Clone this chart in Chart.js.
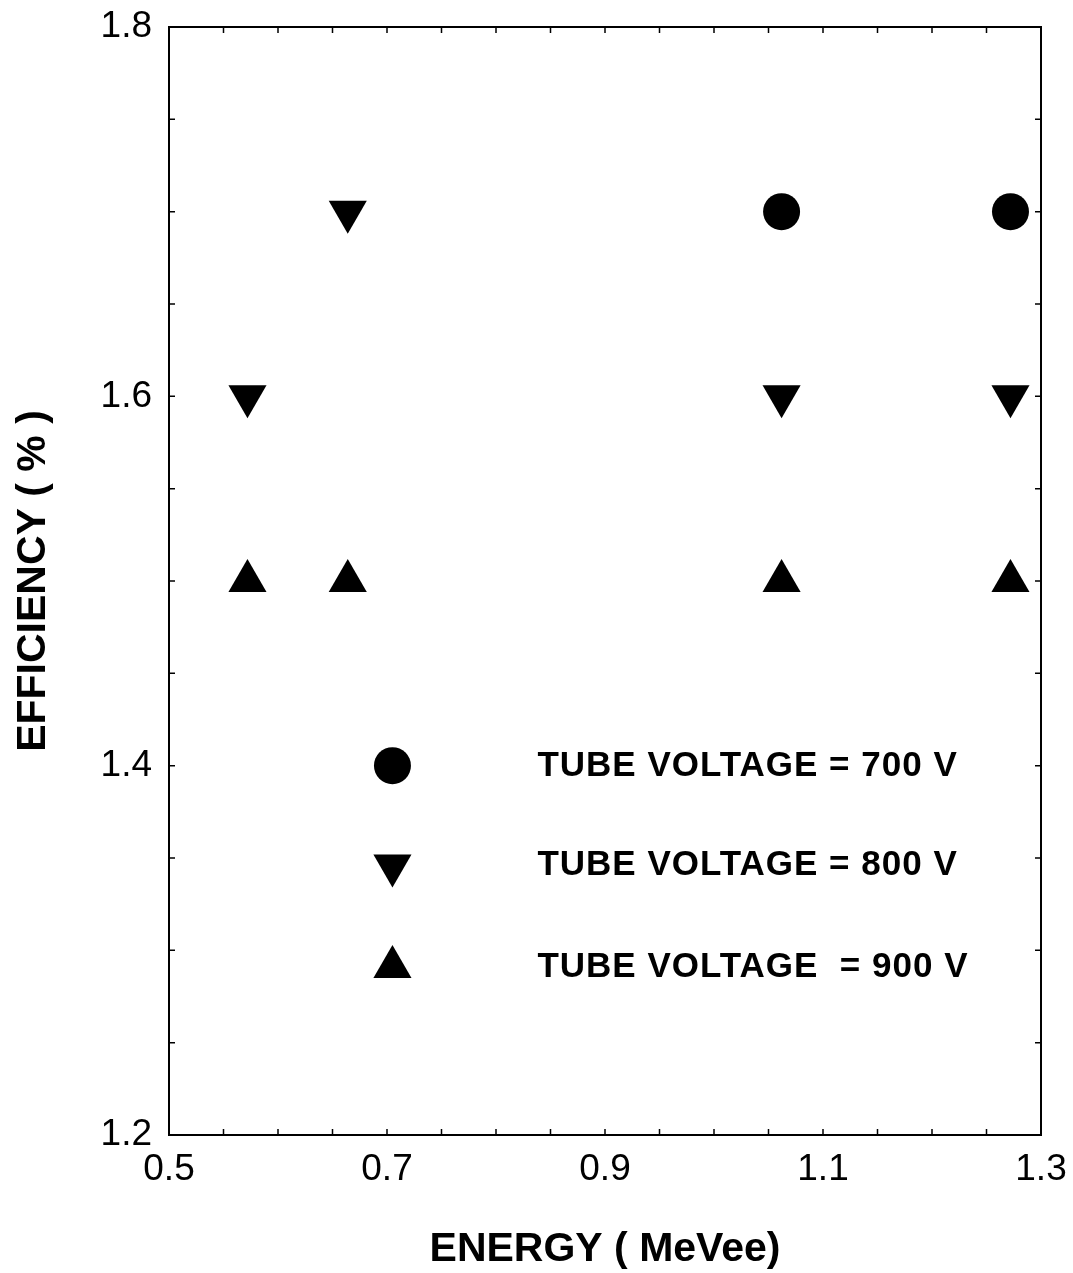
<!DOCTYPE html>
<html><head><meta charset="utf-8">
<script src="https://cdn.jsdelivr.net/npm/chart.js@4.4.1/dist/chart.umd.min.js"></script>
<style>html,body{margin:0;padding:0;background:#fff;} #wrap{width:1073px;height:1273px;position:relative;}</style>
</head><body><div id="wrap"><canvas id="c"></canvas></div>
<script>
// Detector efficiency vs. electron-equivalent energy, per PMT tube voltage
const energy700 = [1.062, 1.272];
const eff700    = [1.70, 1.70];
const energy800 = [0.572, 0.664, 1.062, 1.272];
const eff800    = [1.60, 1.70, 1.60, 1.60];
const energy900 = [0.572, 0.664, 1.062, 1.272];
const eff900    = [1.50, 1.50, 1.50, 1.50];

const xTickValues = [0.5, 0.7, 0.9, 1.1, 1.3];
const yTickValues = [1.2, 1.4, 1.6, 1.8];
const minorStep = 0.05;

const seriesLabels = ['TUBE VOLTAGE = 700 V', 'TUBE VOLTAGE = 800 V', 'TUBE VOLTAGE  = 900 V'];
const seriesStyles = [
  {pointStyle: 'circle', rotation: 0, radius: 18.5},
  {pointStyle: 'triangle', rotation: 180, radius: 22},
  {pointStyle: 'triangle', rotation: 0, radius: 22}
];
// legend key anchors (data units)
const legendMarkerX = 0.705;
const legendTextX = 0.838;
const legendRowsY = [1.40, 1.346, 1.291];

const toPoints = (xs, ys) => xs.map((v, i) => ({x: v, y: ys[i]}));

function markerPath(ctx, style, cx, cy) {
  ctx.beginPath();
  if (style.pointStyle === 'circle') {
    ctx.arc(cx, cy, style.radius, 0, Math.PI * 2);
  } else {
    const r = style.radius;
    const rot = style.rotation * Math.PI / 180;
    for (let k = 0; k < 3; k++) {
      const ang = rot - Math.PI / 2 + k * 2 * Math.PI / 3;
      const px = cx + r * Math.cos(ang), py = cy + r * Math.sin(ang);
      if (k === 0) ctx.moveTo(px, py); else ctx.lineTo(px, py);
    }
    ctx.closePath();
  }
}

const framePlugin = {
  id: 'frame',
  beforeDatasetsDraw(chart) {
    const {ctx, chartArea: a, scales: {x, y}} = chart;
    ctx.save();
    ctx.strokeStyle = '#000';
    ctx.lineWidth = 2;
    ctx.strokeRect(a.left, a.top, a.right - a.left, a.bottom - a.top);
    ctx.lineWidth = 1.5;
    const len = 6;
    ctx.beginPath();
    const nx = Math.round((x.max - x.min) / minorStep);
    for (let i = 1; i < nx; i++) {
      const px = x.getPixelForValue(x.min + i * minorStep);
      ctx.moveTo(px, a.bottom); ctx.lineTo(px, a.bottom - len);
      ctx.moveTo(px, a.top); ctx.lineTo(px, a.top + len);
    }
    const ny = Math.round((y.max - y.min) / minorStep);
    for (let i = 1; i < ny; i++) {
      const py = y.getPixelForValue(y.min + i * minorStep);
      ctx.moveTo(a.left, py); ctx.lineTo(a.left + len, py);
      ctx.moveTo(a.right, py); ctx.lineTo(a.right - len, py);
    }
    ctx.stroke();
    ctx.restore();
  },
  afterDraw(chart) {
    const {ctx, scales: {x, y}} = chart;
    ctx.save();
    ctx.fillStyle = '#000';
    ctx.font = "bold 35px 'Liberation Sans', Arial, sans-serif";
    ctx.letterSpacing = '1px';
    ctx.textBaseline = 'alphabetic';
    ctx.textAlign = 'left';
    seriesLabels.forEach((lab, i) => {
      const cy = y.getPixelForValue(legendRowsY[i]);
      markerPath(ctx, seriesStyles[i], x.getPixelForValue(legendMarkerX), cy);
      ctx.fill();
      ctx.fillText(lab, x.getPixelForValue(legendTextX), cy + 10);
    });
    ctx.restore();
  }
};

const tickFont = {family: "'Liberation Sans', Arial, sans-serif", size: 37};
const titleFont = {family: "'Liberation Sans', Arial, sans-serif", size: 41, weight: 'bold', lineHeight: 1};

new Chart(document.getElementById('c'), {
  type: 'scatter',
  data: {
    datasets: [
      {label: seriesLabels[0], data: toPoints(energy700, eff700)},
      {label: seriesLabels[1], data: toPoints(energy800, eff800)},
      {label: seriesLabels[2], data: toPoints(energy900, eff900)}
    ].map((d, i) => Object.assign(d, {
      pointStyle: seriesStyles[i].pointStyle,
      rotation: seriesStyles[i].rotation,
      pointRadius: seriesStyles[i].radius,
      pointHoverRadius: seriesStyles[i].radius,
      backgroundColor: '#000',
      borderColor: '#000',
      borderWidth: 0
    }))
  },
  options: {
    responsive: true,
    maintainAspectRatio: false,
    animation: false,
    layout: {padding: {top: 27, right: 32, left: 0, bottom: 0}},
    plugins: {legend: {display: false}, tooltip: {enabled: false}},
    scales: {
      x: {
        type: 'linear', min: 0.5, max: 1.3,
        grid: {display: false, drawTicks: false},
        border: {display: false},
        afterBuildTicks: s => { s.ticks = xTickValues.map(v => ({value: v})); },
        afterFit: s => { s.height = 138; s.paddingLeft = 0; s.paddingRight = 0; },
        ticks: {font: tickFont, color: '#000', padding: 13, maxRotation: 0,
                callback: v => v.toFixed(1)},
        title: {display: true, text: 'ENERGY ( MeVee)', font: titleFont, color: '#000',
                padding: {top: 0, bottom: 3}}
      },
      y: {
        type: 'linear', min: 1.2, max: 1.8,
        grid: {display: false, drawTicks: false},
        border: {display: false},
        afterBuildTicks: s => { s.ticks = yTickValues.map(v => ({value: v})); },
        afterFit: s => { s.width = 169; s.paddingTop = 0; s.paddingBottom = 0; },
        ticks: {font: tickFont, color: '#000', padding: 17,
                callback: v => v.toFixed(1)},
        title: {display: true, text: 'EFFICIENCY ( % )', font: titleFont, color: '#000',
                padding: {top: 13, bottom: 0}}
      }
    }
  },
  plugins: [framePlugin]
});
</script>
</body></html>
